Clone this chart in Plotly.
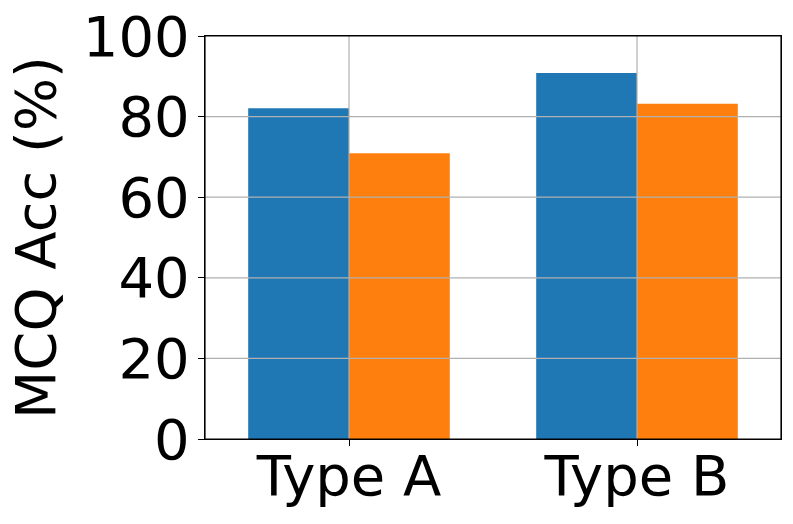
import plotly.graph_objects as go

categories = ["Type A", "Type B"]
series_1 = [82.1, 90.8]
series_2 = [70.9, 83.2]
y_ticks = [0, 20, 40, 60, 80, 100]

FONT = "DejaVu Sans"
GRID = "#b0b0b0"
FS = 56

fig = go.Figure()
fig.add_trace(go.Bar(x=categories, y=series_1, marker=dict(color="#1f77b4", line=dict(width=0)), showlegend=False))
fig.add_trace(go.Bar(x=categories, y=series_2, marker=dict(color="#ff7f0e", line=dict(width=0)), showlegend=False))

# gridlines drawn above bars (as in the reference)
shapes = []
for t in y_ticks[1:-1]:
    shapes.append(dict(type="line", xref="paper", yref="y", x0=0, x1=1, y0=t, y1=t,
                       line=dict(color=GRID, width=1.2), layer="above"))
for c in categories:
    shapes.append(dict(type="line", xref="x", yref="paper", x0=c, x1=c, y0=0, y1=1,
                       line=dict(color=GRID, width=1.2), layer="above"))
# frame
shapes.append(dict(type="rect", xref="paper", yref="paper", x0=0, x1=1, y0=0, y1=1,
                   line=dict(color="black", width=1.2), layer="above"))

fig.update_layout(
    width=793, height=524,
    margin=dict(l=205, r=12, t=36, b=85, autoexpand=False),
    paper_bgcolor="white", plot_bgcolor="white",
    barmode="group", bargap=0.3, bargroupgap=0,
    font=dict(family=FONT, size=FS, color="black"),
    shapes=shapes,
)
fig.update_xaxes(
    automargin=False,
    showgrid=False, showline=True, linecolor="black", linewidth=1.2, mirror=True,
    ticks="outside", ticklen=6, tickcolor="black", tickwidth=1.2,
    tickfont=dict(family=FONT, size=FS, color="black"),
    ticklabelstandoff=-18, ticklabeloverflow="allow",
)
fig.update_yaxes(
    automargin=False,
    range=[0, 100], tickvals=y_ticks, ticktext=[str(t) for t in y_ticks],
    showgrid=False, showline=True, linecolor="black", linewidth=1.2, mirror=True,
    ticks="outside", ticklen=6, tickcolor="black", tickwidth=1.2,
    tickfont=dict(family=FONT, size=FS, color="black"),
    ticklabeloverflow="allow", ticklabelstandoff=-3,
    title=dict(text="MCQ Acc (%)", font=dict(family=FONT, size=FS, color="black"), standoff=9),
    zeroline=False,
)

fig.write_html("out.html", config={"displayModeBar": False},
               post_script="document.body.style.margin='0';")
